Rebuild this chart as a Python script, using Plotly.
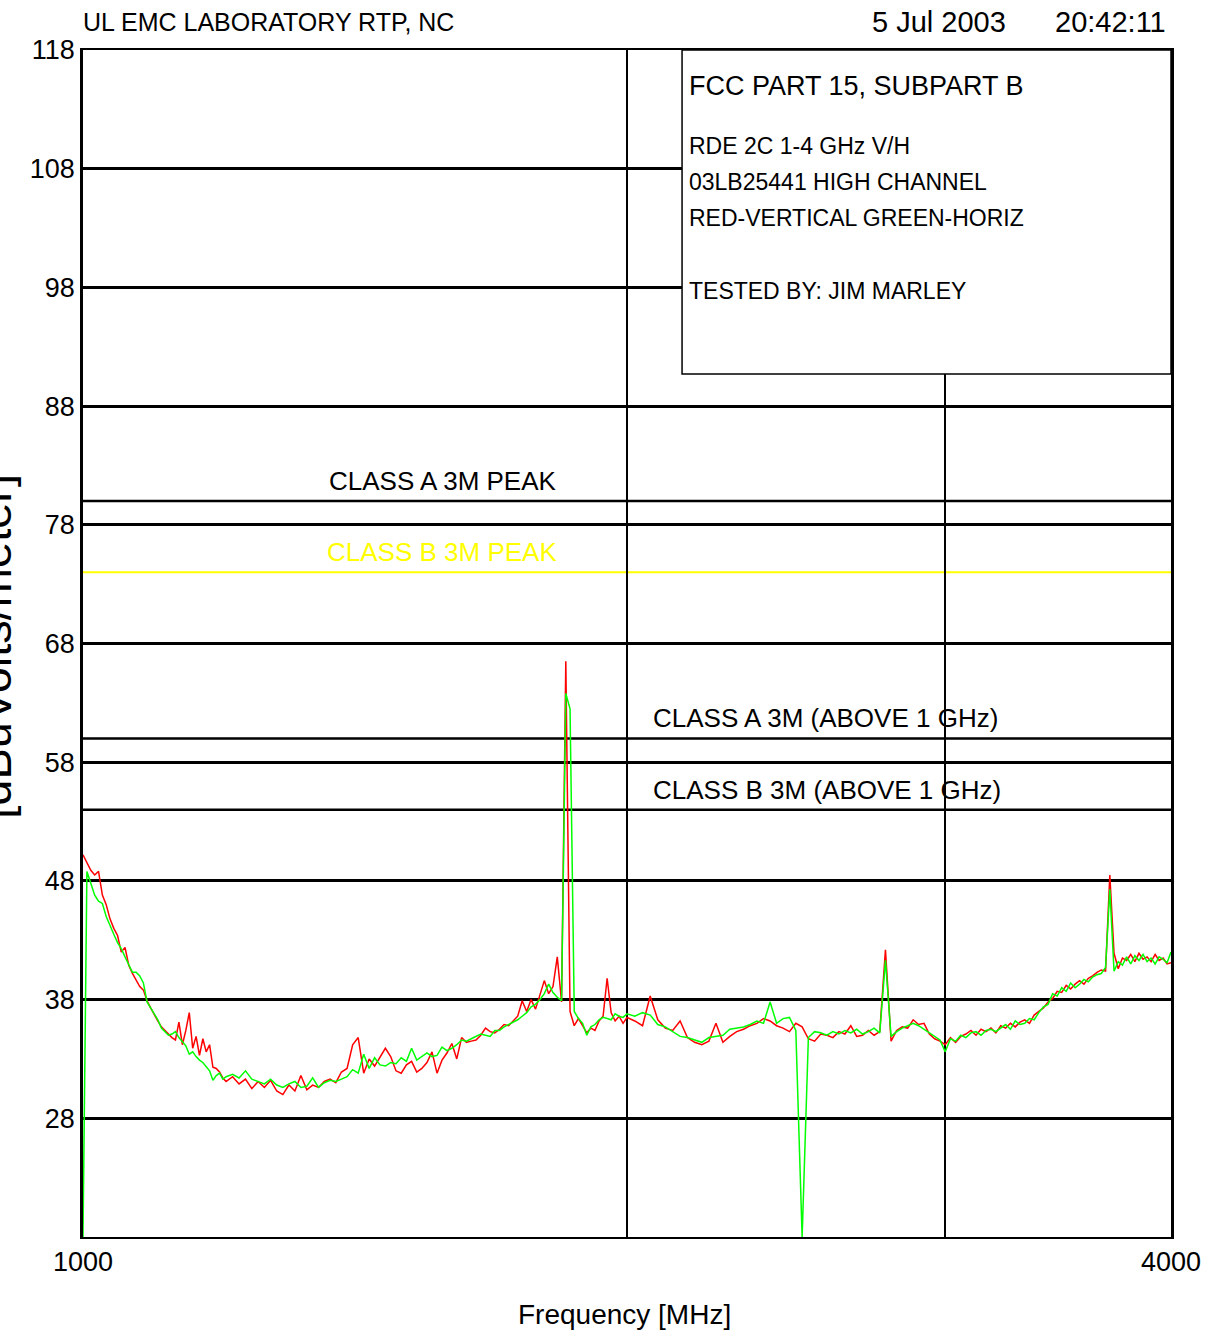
import plotly.graph_objects as go

# ---------------- data ----------------
# swept frequency grid (MHz)
FREQ_MHZ = list(range(1000, 1201, 5)) + list(range(1210, 2001, 10)) + list(range(2020, 4001, 20))

# RED = vertical polarisation, dBuV/m
RED_1000_1200 = [50.2, 49.6, 48.9, 48.5, 48.8, 46.8, 46.0, 44.8, 44.0, 43.4, 42.0, 42.4, 40.9, 40.2,
                 39.7, 39.1, 38.8, 37.9, 37.3, 36.7, 36.2, 35.7, 35.4, 35.1, 34.8, 34.6, 36.1, 34.2,
                 35.4, 36.9, 33.9, 34.9, 33.3, 34.7, 33.6, 34.2, 32.3, 32.2, 31.9, 31.4, 31.1]
RED_1210_2000 = [31.5, 30.9, 31.3, 30.5, 31.1, 30.6, 31.2, 30.3, 30.0, 30.8,
                 30.3, 31.6, 30.4, 30.8, 30.6, 31.1, 31.3, 31.0, 31.9, 32.2,
                 34.2, 34.8, 31.8, 33.0, 32.4, 33.1, 33.9, 33.2, 32.0, 31.8,
                 32.5, 32.8, 31.9, 32.2, 32.7, 33.6, 31.8, 32.9, 33.5, 34.3,
                 33.0, 34.8, 34.4, 34.5, 34.6, 35.0, 35.6, 35.3, 35.2, 35.5,
                 35.9, 35.8, 36.2, 36.6, 37.9, 37.0, 38.0, 37.2, 38.4, 39.6,
                 38.5, 39.1, 41.6, 37.8, 66.5, 37.0, 35.8, 36.4, 35.8, 35.2,
                 35.6, 35.4, 36.2, 36.6, 39.8, 36.9, 36.2, 36.6, 36.0, 36.5]
RED_2020_4000 = [36.2, 35.8, 38.3, 36.3, 35.6, 35.4, 36.2, 34.8, 34.4, 34.2,
                 34.5, 36.0, 34.4, 34.9, 35.3, 35.5, 35.8, 36.0, 36.4, 36.2,
                 35.8, 35.6, 35.3, 36.0, 35.7, 34.7, 34.5, 35.1, 35.0, 34.8,
                 35.3, 35.1, 35.8, 34.9, 35.0, 35.4, 35.0, 35.3, 42.2, 34.5,
                 35.4, 35.7, 35.6, 36.3, 35.9, 36.0, 35.1, 34.7, 34.5, 34.2,
                 34.8, 34.4, 34.9, 35.1, 35.4, 35.0, 35.5, 35.3, 35.6, 35.2,
                 35.8, 35.6, 36.0, 35.7, 36.1, 36.3, 36.0, 36.7, 37.0, 37.3,
                 37.8, 38.1, 38.7, 38.6, 39.2, 38.9, 39.3, 39.6, 39.3, 39.8,
                 40.0, 40.3, 40.5, 40.4, 48.5, 41.9, 40.6, 41.5, 41.3, 41.8,
                 41.2, 41.9, 41.4, 41.6, 41.2, 41.8, 41.3, 41.5, 41.0, 41.1]

# GREEN = horizontal polarisation, dBuV/m
GREEN_1000_1200 = [18.0, 48.8, 47.8, 46.8, 46.3, 46.1, 45.0, 44.2, 43.5, 42.8, 42.3, 41.6, 41.0, 40.3,
                   40.3, 40.0, 39.4, 37.8, 37.3, 36.8, 36.3, 35.6, 35.3, 35.0, 35.1, 35.3, 34.8, 34.4,
                   34.1, 33.4, 33.6, 33.2, 32.9, 32.7, 32.3, 32.0, 31.2, 31.6, 31.8, 31.3, 31.5]
GREEN_1210_2000 = [31.7, 31.4, 32.0, 31.3, 31.1, 30.9, 31.3, 30.8, 30.6, 30.9,
                   31.1, 30.6, 30.7, 31.4, 30.6, 31.0, 31.2, 31.1, 31.3, 31.5,
                   32.1, 31.8, 33.4, 32.2, 33.1, 32.5, 32.4, 32.7, 32.6, 33.1,
                   32.8, 33.9, 32.9, 33.2, 33.5, 33.2, 33.3, 34.0, 33.7, 33.9,
                   34.2, 34.6, 34.5, 34.7, 34.9, 35.1, 35.0, 34.9, 35.4, 35.4,
                   35.7, 35.9, 36.1, 36.3, 36.6, 36.9, 37.4, 37.6, 38.0, 38.5,
                   39.3, 38.6, 38.2, 37.9, 63.8, 62.5, 37.0, 36.4, 36.0, 35.0,
                   35.7, 35.9, 36.3, 36.5, 36.4, 36.3, 36.8, 36.6, 36.5, 36.8]
GREEN_2020_4000 = [36.6, 36.9, 36.7, 35.9, 35.7, 35.3, 34.9, 34.8, 34.6, 34.4,
                   34.8, 34.9, 35.0, 35.5, 35.6, 35.7, 35.9, 36.2, 36.0, 37.8,
                   36.0, 36.4, 36.5, 35.4, 18.0, 34.8, 35.3, 35.2, 35.0, 35.3,
                   35.1, 35.4, 35.2, 35.5, 35.1, 35.3, 35.6, 35.2, 41.3, 34.9,
                   35.3, 35.6, 35.8, 36.0, 35.8, 35.5, 35.2, 34.9, 34.6, 33.6,
                   34.7, 34.5, 35.0, 34.8, 35.2, 35.3, 35.0, 35.4, 35.5, 35.3,
                   35.6, 35.9, 35.5, 36.2, 35.9, 36.0, 36.4, 36.3, 36.9, 37.4,
                   37.6, 38.5, 38.3, 39.0, 38.7, 39.4, 39.0, 39.3, 39.7, 39.5,
                   39.9, 40.1, 40.2, 40.7, 47.3, 40.4, 41.2, 40.9, 41.6, 41.0,
                   41.7, 41.3, 41.8, 41.2, 41.5, 41.0, 41.6, 41.4, 41.1, 42.0]

RED = RED_1000_1200 + RED_1210_2000 + RED_2020_4000
GREEN = GREEN_1000_1200 + GREEN_1210_2000 + GREEN_2020_4000

# limit lines (dBuV/m)
LIMIT_NAMES = ["CLASS A 3M PEAK", "CLASS B 3M PEAK", "CLASS A 3M (ABOVE 1 GHz)", "CLASS B 3M (ABOVE 1 GHz)"]
LIMIT_VALUES = [80, 74, 60, 54]
LIMIT_COLORS = ["#000000", "#ffff00", "#000000", "#000000"]
LIMIT_LABEL_X = [0.2243, 0.2225, 0.5221, 0.5221]

Y_TICKS = [28, 38, 48, 58, 68, 78, 88, 98, 108, 118]
X_TICKS = [1000, 2000, 3000, 4000]
X_TICK_TEXT = ["1000", "", "", "4000"]

INFO_LINES = ["FCC PART 15, SUBPART B", "RDE 2C 1-4 GHz V/H", "03LB25441 HIGH CHANNEL",
              "RED-VERTICAL GREEN-HORIZ", "TESTED BY: JIM MARLEY"]
INFO_Y = [0.9697, 0.9191, 0.8888, 0.8585, 0.7970]
INFO_SIZE = [27, 23, 23, 23, 23]

FONT = "Liberation Sans, Arial, sans-serif"

# ---------------- figure ----------------
fig = go.Figure()
fig.add_trace(go.Scatter(x=FREQ_MHZ, y=RED, mode="lines",
                         line=dict(color="#ff0000", width=1.5), name="Vertical", hoverinfo="skip"))
fig.add_trace(go.Scatter(x=FREQ_MHZ, y=GREEN, mode="lines",
                         line=dict(color="#00ff00", width=1.5), name="Horizontal", hoverinfo="skip"))

shapes = []
annotations = []
for name, val, col, lx in zip(LIMIT_NAMES, LIMIT_VALUES, LIMIT_COLORS, LIMIT_LABEL_X):
    shapes.append(dict(type="line", xref="paper", x0=0, x1=1, yref="y", y0=val, y1=val,
                       line=dict(color=col, width=2.5 if col == "#000000" else 2), layer="below"))
    annotations.append(dict(text=name, xref="paper", x=lx, yref="y", y=val, xanchor="left",
                            yanchor="bottom", yshift=3, showarrow=False,
                            font=dict(family=FONT, size=26, color=col)))

# info box
shapes.append(dict(type="rect", xref="paper", x0=0.5506, x1=1.0, yref="paper", y0=0.7270, y1=1.0,
                   fillcolor="white", line=dict(color="black", width=1.5), layer="above"))
for txt, yy, sz in zip(INFO_LINES, INFO_Y, INFO_SIZE):
    annotations.append(dict(text=txt, xref="paper", x=0.5551, yref="paper", y=yy, xanchor="left",
                            yanchor="middle", showarrow=False, font=dict(family=FONT, size=sz, color="black")))

# header
annotations.append(dict(text="UL EMC LABORATORY RTP, NC", xref="paper", x=-0.002, yref="paper", y=1.0236,
                        xanchor="left", yanchor="middle", showarrow=False,
                        font=dict(family=FONT, size=25, color="black")))
annotations.append(dict(text="5 Jul 2003", xref="paper", x=0.8502, yref="paper", y=1.0236,
                        xanchor="right", yanchor="middle", showarrow=False,
                        font=dict(family=FONT, size=29, color="black")))
annotations.append(dict(text="20:42:11", xref="paper", x=0.9975, yref="paper", y=1.0236,
                        xanchor="right", yanchor="middle", showarrow=False,
                        font=dict(family=FONT, size=29, color="black")))
# axis titles
annotations.append(dict(text="Frequency [MHz]", xref="paper", x=0.498, yref="paper", y=-0.0657,
                        xanchor="center", yanchor="middle", showarrow=False,
                        font=dict(family=FONT, size=28, color="black")))
annotations.append(dict(text="[dBuVolts/meter]", xref="paper", x=-0.0815, yref="paper", y=0.4975,
                        xanchor="center", yanchor="middle", textangle=-90, showarrow=False,
                        font=dict(family=FONT, size=47, color="black")))

fig.update_layout(
    width=1212, height=1338,
    margin=dict(l=83, r=41, t=50, b=101),
    paper_bgcolor="white", plot_bgcolor="white",
    showlegend=False,
    shapes=shapes, annotations=annotations,
    font=dict(family=FONT, size=27, color="black"),
)
fig.update_xaxes(type="log", range=[3, 3.60206], tickvals=X_TICKS, ticktext=X_TICK_TEXT,
                 showgrid=True, gridcolor="black", gridwidth=1.5, zeroline=False,
                 showline=True, linecolor="black", linewidth=2, mirror=True, ticks="",
                 tickfont=dict(family=FONT, size=27, color="black"))
fig.update_yaxes(range=[18, 118], tickvals=Y_TICKS, showgrid=True, gridcolor="black", gridwidth=2.5,
                 zeroline=False, showline=True, linecolor="black", linewidth=2.5, mirror=True, ticks="",
                 tickfont=dict(family=FONT, size=27, color="black"))

fig.write_html("out.html", config={"displayModeBar": False},
               post_script="document.body.style.margin='0';")
